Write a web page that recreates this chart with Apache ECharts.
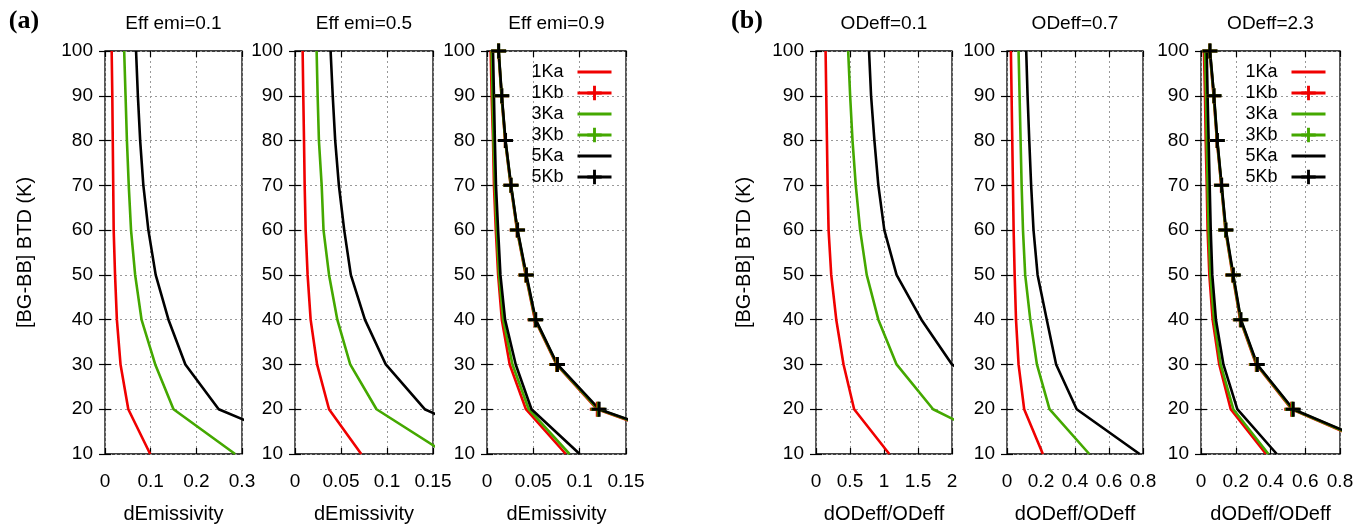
<!DOCTYPE html>
<html>
<head>
<meta charset="utf-8">
<script src="https://cdn.jsdelivr.net/npm/echarts@6/dist/echarts.min.js"></script>
<style>html,body{margin:0;padding:0;background:#fff}#c{width:1361px;height:529px}</style>
</head>
<body>
<div id="c"></div>
<script>
// BTD levels (y values)
const btd = [10, 20, 30, 40, 50, 60, 70, 80, 90, 100];
const yTicks = [10, 20, 30, 40, 50, 60, 70, 80, 90, 100];

// Panel titles
const titles = ['Eff emi=0.1', 'Eff emi=0.5', 'Eff emi=0.9', 'ODeff=0.1', 'ODeff=0.7', 'ODeff=2.3'];
const xNames = ['dEmissivity', 'dEmissivity', 'dEmissivity', 'dODeff/ODeff', 'dODeff/ODeff', 'dODeff/ODeff'];
const xMax = [0.3, 0.15, 0.15, 2, 0.8, 0.8];
const xStep = [0.1, 0.05, 0.05, 0.5, 0.2, 0.2];
const legendNames = ['1Ka', '1Kb', '3Ka', '3Kb', '5Ka', '5Kb'];

// Panel (a) Eff emi=0.1
const e01_1Ka = [0.099, 0.051, 0.034, 0.026, 0.022, 0.019, 0.018, 0.017, 0.016, 0.0146];
const e01_3Ka = [0.285, 0.150, 0.110, 0.080, 0.066, 0.057, 0.052, 0.048, 0.045, 0.042];
const e01_5Ka = [0.48, 0.249, 0.176, 0.139, 0.111, 0.095, 0.084, 0.077, 0.072, 0.068];
// Eff emi=0.5
const e05_1Ka = [0.072, 0.037, 0.024, 0.017, 0.0137, 0.0116, 0.0105, 0.0098, 0.009, 0.0083];
const e05_3Ka = [0.165, 0.0886, 0.060, 0.046, 0.037, 0.031, 0.029, 0.026, 0.0246, 0.0235];
const e05_5Ka = [0.25, 0.141, 0.0987, 0.076, 0.0607, 0.0535, 0.0477, 0.0437, 0.041, 0.0387];
// Eff emi=0.9
const e09_1Ka = [0.085, 0.042, 0.0245, 0.016, 0.012, 0.0095, 0.0075, 0.0065, 0.005, 0.004];
const e09_3Ka = [0.089, 0.045, 0.0275, 0.0175, 0.013, 0.0105, 0.0085, 0.007, 0.006, 0.005];
const e09_5Ka = [0.100, 0.048, 0.031, 0.0195, 0.0145, 0.012, 0.0097, 0.0085, 0.0075, 0.0065];
const e09_1Kb = [0.255, 0.119, 0.075, 0.0518, 0.0418, 0.0325, 0.0256, 0.0197, 0.0157, 0.0124];
const e09_3Kb = [0.257, 0.120, 0.0755, 0.0522, 0.0421, 0.0327, 0.0258, 0.0198, 0.0158, 0.0125];
const e09_5Kb = [0.259, 0.121, 0.076, 0.0526, 0.0425, 0.033, 0.026, 0.020, 0.016, 0.0126];

// Panel (b) ODeff=0.1
const o01_1Ka = [1.078, 0.561, 0.405, 0.298, 0.224, 0.185, 0.171, 0.161, 0.151, 0.141];
const o01_3Ka = [3.04, 1.722, 1.185, 0.917, 0.746, 0.649, 0.585, 0.537, 0.502, 0.473];
const o01_5Ka = [5.5, 3.0, 2.0, 1.551, 1.185, 1.005, 0.917, 0.859, 0.81, 0.78];
// ODeff=0.7
const o07_1Ka = [0.211, 0.101, 0.068, 0.053, 0.045, 0.039, 0.035, 0.031, 0.027, 0.023];
const o07_3Ka = [0.484, 0.25, 0.176, 0.137, 0.107, 0.094, 0.086, 0.08, 0.074, 0.068];
const o07_5Ka = [0.78, 0.41, 0.289, 0.234, 0.18, 0.156, 0.142, 0.131, 0.121, 0.113];
// ODeff=2.3
const o23_1Ka = [0.374, 0.171, 0.105, 0.067, 0.048, 0.038, 0.033, 0.027, 0.023, 0.017];
const o23_3Ka = [0.388, 0.186, 0.113, 0.075, 0.054, 0.044, 0.038, 0.033, 0.029, 0.023];
const o23_5Ka = [0.436, 0.209, 0.129, 0.086, 0.065, 0.056, 0.050, 0.044, 0.038, 0.033];
const o23_1Kb = [1.12, 0.522, 0.318, 0.226, 0.182, 0.141, 0.117, 0.092, 0.073, 0.050];
const o23_3Kb = [1.13, 0.526, 0.321, 0.228, 0.184, 0.142, 0.118, 0.093, 0.074, 0.051];
const o23_5Kb = [1.14, 0.531, 0.324, 0.230, 0.186, 0.144, 0.119, 0.094, 0.075, 0.052];

const RED = '#f00000', GREEN = '#44a800', BLACK = '#000000';
const FONT = '"Liberation Sans", Arial, Helvetica, sans-serif';

// layout
const lefts = [105, 295, 487, 816, 1007, 1201];
const widths = [137, 138, 139, 136, 136, 139];
const TOP = 51, HEIGHT = 406;

const grids = [], xAxes = [], yAxes = [], series = [];
lefts.forEach((l, i) => {
  grids.push({left: l, top: TOP, width: widths[i], height: HEIGHT, show: true,
    borderColor: '#000', borderWidth: 1.3, backgroundColor: 'transparent', containLabel: false});
  const xb = {
    type: 'value', gridIndex: i, position: 'bottom', min: 0, max: xMax[i], interval: xStep[i],
    name: xNames[i], nameLocation: 'middle', nameGap: 50,
    nameTextStyle: {fontSize: 20, fontFamily: FONT, color: '#000'},
    axisLine: {show: false},
    axisTick: {show: true, inside: true, length: 6, lineStyle: {color: '#000', width: 1.2}},
    axisLabel: {fontSize: 19, fontFamily: FONT, color: '#000', margin: 18, showMinLabel: true, showMaxLabel: true},
    splitLine: {show: true, lineStyle: {color: '#999', type: [2, 3], width: 1}}
  };
  const xt = {
    type: 'value', gridIndex: i, position: 'top', min: 0, max: xMax[i], interval: xStep[i],
    axisLine: {show: false}, axisLabel: {show: false}, splitLine: {show: false},
    axisTick: {show: true, inside: true, length: 6, lineStyle: {color: '#000', width: 1.2}}
  };
  xAxes.push(xb, xt);
  const yl = {
    type: 'value', gridIndex: i, position: 'left', min: 10, max: 100, interval: 10,
    axisLine: {show: false},
    axisTick: {show: true, inside: true, length: 6, lineStyle: {color: '#000', width: 1.2}},
    axisLabel: {fontSize: 19, fontFamily: FONT, color: '#000', margin: 12,
      formatter: v => yTicks.includes(v) ? String(v) : ''},
    splitLine: {show: true, lineStyle: {color: '#999', type: [2, 3], width: 1}}
  };
  if (i === 0 || i === 3) {
    yl.name = '[BG-BB] BTD (K)';
    yl.nameLocation = 'middle';
    yl.nameGap = i === 0 ? 70 : 62;
    yl.nameRotate = 90;
    yl.nameTextStyle = {fontSize: 20, fontFamily: FONT, color: '#000'};
  }
  const yr = {
    type: 'value', gridIndex: i, position: 'right', min: 10, max: 100, interval: 10,
    axisLine: {show: false}, axisLabel: {show: false}, splitLine: {show: false},
    axisTick: {show: true, inside: true, length: 6, lineStyle: {color: '#000', width: 1.2}}
  };
  yAxes.push(yl, yr);
});

const PLUS = 'path://M4,0H6V4H10V6H6V10H4V6H0V4H4Z';
function addLine(panel, name, vals, color, withMarks, width) {
  series.push({
    type: 'line', name: name, xAxisIndex: panel * 2, yAxisIndex: panel * 2,
    data: btd.map((y, k) => [vals[k], y]),
    clip: true, silent: true, animation: false,
    symbol: withMarks ? PLUS : 'none', symbolSize: 15, showSymbol: !!withMarks,
    itemStyle: {color: color},
    lineStyle: {color: color, width: width || 2.6},
    emphasis: {disabled: true}, z: withMarks ? 3 : 2
  });
}
const panelsA = [
  [e01_1Ka, e01_3Ka, e01_5Ka], [e05_1Ka, e05_3Ka, e05_5Ka], [e09_1Ka, e09_3Ka, e09_5Ka],
  [o01_1Ka, o01_3Ka, o01_5Ka], [o07_1Ka, o07_3Ka, o07_5Ka], [o23_1Ka, o23_3Ka, o23_5Ka]
];
panelsA.forEach((arr, p) => {
  addLine(p, '1Ka', arr[0], RED, false);
  addLine(p, '3Ka', arr[1], GREEN, false);
  addLine(p, '5Ka', arr[2], BLACK, false);
});
addLine(2, '1Kb', e09_1Kb, RED, true, 2.8);
addLine(2, '3Kb', e09_3Kb, GREEN, true, 2.8);
addLine(2, '5Kb', e09_5Kb, BLACK, true, 2.6);
addLine(5, '1Kb', o23_1Kb, RED, true, 2.8);
addLine(5, '3Kb', o23_3Kb, GREEN, true, 2.8);
addLine(5, '5Kb', o23_5Kb, BLACK, true, 2.6);

function legendAt(rightPx) {
  return {
    data: legendNames.map(n => n.endsWith('a') ? {name: n, itemStyle: {opacity: 0}} : {name: n}),
    orient: 'vertical', align: 'right', right: rightPx, top: 63, padding: 0,
    itemWidth: 34, itemHeight: 18, itemGap: 3, selectedMode: false, backgroundColor: 'transparent',
    lineStyle: {width: 3},
    textStyle: {fontSize: 18, fontFamily: FONT, color: '#000', padding: [0, 9, 0, 0]}
  };
}

const graphics = [];
const centers = lefts.map((l, i) => l + widths[i] / 2);
titles.forEach((t, i) => graphics.push({
  type: 'text', x: centers[i], y: 24, silent: true,
  style: {text: t, font: '19px ' + FONT, fill: '#000', align: 'center', verticalAlign: 'middle',
    textAlign: 'center', textVerticalAlign: 'middle'}
}));
[['(a)', 24], ['(b)', 747]].forEach(([t, x]) => graphics.push({
  type: 'text', x: x, y: 21, silent: true,
  style: {text: t, font: 'bold 26px "Liberation Serif", "Times New Roman", serif', fill: '#000',
    align: 'center', verticalAlign: 'middle', textAlign: 'center', textVerticalAlign: 'middle'}
}));

const chart = echarts.init(document.getElementById('c'), null, {renderer: 'canvas'});
chart.setOption({
  backgroundColor: '#fff',
  animation: false,
  grid: grids, xAxis: xAxes, yAxis: yAxes, series: series,
  legend: [legendAt(748), legendAt(34)],
  graphic: graphics
});
</script>
</body>
</html>
